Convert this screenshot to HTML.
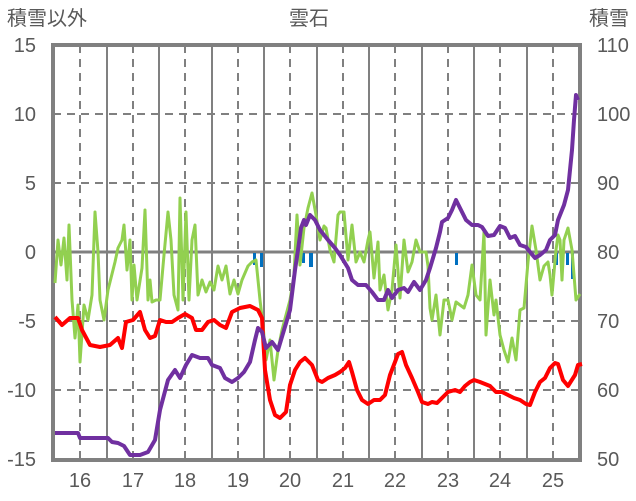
<!DOCTYPE html><html><head><style>body{margin:0;background:#fff}svg{display:block}text{font-family:"Liberation Sans","Noto Sans CJK JP",sans-serif;fill:#595959;font-size:20px}</style></head><body>
<svg width="636" height="501" viewBox="0 0 636 501">
<g stroke="#808080" stroke-width="2" stroke-dasharray="8,6">
<line x1="53" y1="114" x2="580" y2="114"/><line x1="53" y1="183" x2="580" y2="183"/><line x1="53" y1="321" x2="580" y2="321"/><line x1="53" y1="390" x2="580" y2="390"/>
<line x1="80" y1="45" x2="80" y2="460"/><line x1="133" y1="45" x2="133" y2="460"/><line x1="185" y1="45" x2="185" y2="460"/><line x1="238" y1="45" x2="238" y2="460"/><line x1="290" y1="45" x2="290" y2="460"/><line x1="343" y1="45" x2="343" y2="460"/><line x1="395" y1="45" x2="395" y2="460"/><line x1="448" y1="45" x2="448" y2="460"/><line x1="500" y1="45" x2="500" y2="460"/><line x1="553" y1="45" x2="553" y2="460"/>
</g>
<g stroke="#808080" stroke-width="2">
<line x1="107" y1="45" x2="107" y2="460"/><line x1="159" y1="45" x2="159" y2="460"/><line x1="212" y1="45" x2="212" y2="460"/><line x1="264" y1="45" x2="264" y2="460"/><line x1="317" y1="45" x2="317" y2="460"/><line x1="369" y1="45" x2="369" y2="460"/><line x1="422" y1="45" x2="422" y2="460"/><line x1="474" y1="45" x2="474" y2="460"/><line x1="527" y1="45" x2="527" y2="460"/>
</g>
<line x1="53" y1="252" x2="580" y2="252" stroke="#808080" stroke-width="3"/>
<rect x="53" y="45" width="527" height="415" fill="none" stroke="#808080" stroke-width="4"/>
<g fill="#0070c0"><rect x="253" y="253" width="3" height="12"/><rect x="260" y="253" width="3" height="14"/><rect x="302" y="253" width="3" height="10"/><rect x="309" y="253" width="4" height="14"/><rect x="455" y="253" width="3" height="12"/><rect x="555" y="253" width="3" height="12"/><rect x="566" y="253" width="3" height="12"/><rect x="571" y="253" width="3" height="26"/></g>
<polyline fill="none" stroke="#92d050" stroke-width="3" stroke-linejoin="round" points="55,283 58,240 61,265 64,238 67,280 69,225 72,300 75,338 78,305 80,362 84,305 88,320 92,295 95,212 98,252 100,300 104,320 108,290 115,262 118,248 122,240 124,225 127,270 130,240 132,300 134,265 137,300 142,268 145,210 148,300 150,280 152,302 156,300 160,300 164,255 168,212 171,240 174,295 178,310 180,198 183,300 186,212 189,300 192,240 195,225 198,295 202,280 206,292 210,282 214,290 218,266 222,280 226,266 230,294 234,280 238,294 242,280 248,266 252,262 256,260 260,300 263,325 266,360 270,340 274,380 278,350 282,330 286,315 290,300 294,275 297,215 300,265 304,228 308,208 312,193 316,215 320,240 324,226 326,228 330,250 334,262 338,215 340,212 344,212 348,260 352,225 356,262 360,252 364,262 368,240 370,232 374,278 378,242 380,290 384,275 388,310 392,290 396,245 400,298 404,240 408,272 412,262 416,240 420,252 426,252 428,266 430,308 432,320 436,295 440,335 444,300 448,300 452,320 456,302 460,305 464,308 468,295 472,265 476,295 480,300 484,232 486,335 490,280 494,315 496,300 500,335 504,350 508,362 512,338 516,360 520,310 524,308 528,262 532,226 536,250 540,280 544,266 548,262 550,275 552,295 556,250 558,235 560,240 562,280 564,240 568,228 572,250 576,300 580,294"/>
<polyline fill="none" stroke="#ff0000" stroke-width="4" stroke-linejoin="round" points="55,317 62,325 70,318 78,318 82,330 90,345 100,347 110,345 118,338 122,348 126,322 133,320 140,312 145,330 150,338 155,336 160,320 166,322 172,322 178,318 185,314 192,318 196,330 202,330 208,322 214,320 220,325 226,328 232,312 240,308 250,306 258,310 262,318 265,370 270,400 275,415 280,418 286,412 290,385 295,370 300,362 305,358 312,365 318,380 322,382 328,378 335,375 340,372 345,368 349,362 352,372 357,390 362,400 368,404 374,400 380,400 385,395 390,375 395,362 398,354 402,352 406,365 412,378 418,392 422,402 428,404 432,402 437,403 442,398 448,392 455,390 460,392 465,386 470,382 474,380 480,382 485,384 490,386 496,392 502,392 508,395 514,398 520,400 526,404 530,405 535,392 540,382 545,378 550,368 555,363 558,364 563,380 568,386 575,375 578,365 582,364"/>
<polyline fill="none" stroke="#7030a0" stroke-width="4" stroke-linejoin="round" points="55,433 78,433 80,438 108,438 112,442 118,443 124,446 130,455 140,455 148,452 155,440 160,410 168,380 175,370 180,378 186,365 192,355 200,358 208,358 212,365 220,368 225,378 232,382 238,378 244,372 250,362 255,340 258,328 262,332 266,348 272,342 278,350 284,330 290,310 295,270 298,250 301,228 304,220 306,225 310,215 315,220 320,230 328,240 335,248 340,255 348,268 352,280 358,285 366,285 372,292 378,300 384,300 388,290 392,298 398,290 404,288 408,292 414,282 420,290 426,280 430,268 436,248 440,232 442,222 448,218 452,210 456,200 460,208 466,220 472,225 478,225 482,227 488,236 494,235 500,226 505,228 510,238 515,236 520,245 526,247 530,252 535,258 540,255 546,250 550,240 555,235 558,220 564,205 568,190 572,150 574,120 576,95 578,100"/>
<text x="7" y="25">積雪以外</text><text x="309" y="25" text-anchor="middle">雲石</text><text x="629" y="25" text-anchor="end">積雪</text>
<g text-anchor="end"><text x="36" y="52">15</text><text x="36" y="121">10</text><text x="36" y="190">5</text><text x="36" y="259">0</text><text x="36" y="328">-5</text><text x="36" y="397">-10</text><text x="36" y="466">-15</text></g>
<g text-anchor="start"><text x="597" y="52">110</text><text x="597" y="121">100</text><text x="597" y="190">90</text><text x="597" y="259">80</text><text x="597" y="328">70</text><text x="597" y="397">60</text><text x="597" y="466">50</text></g>
<g text-anchor="middle"><text x="80" y="487">16</text><text x="133" y="487">17</text><text x="185" y="487">18</text><text x="238" y="487">19</text><text x="290" y="487">20</text><text x="343" y="487">21</text><text x="395" y="487">22</text><text x="448" y="487">23</text><text x="500" y="487">24</text><text x="553" y="487">25</text></g>
</svg></body></html>
